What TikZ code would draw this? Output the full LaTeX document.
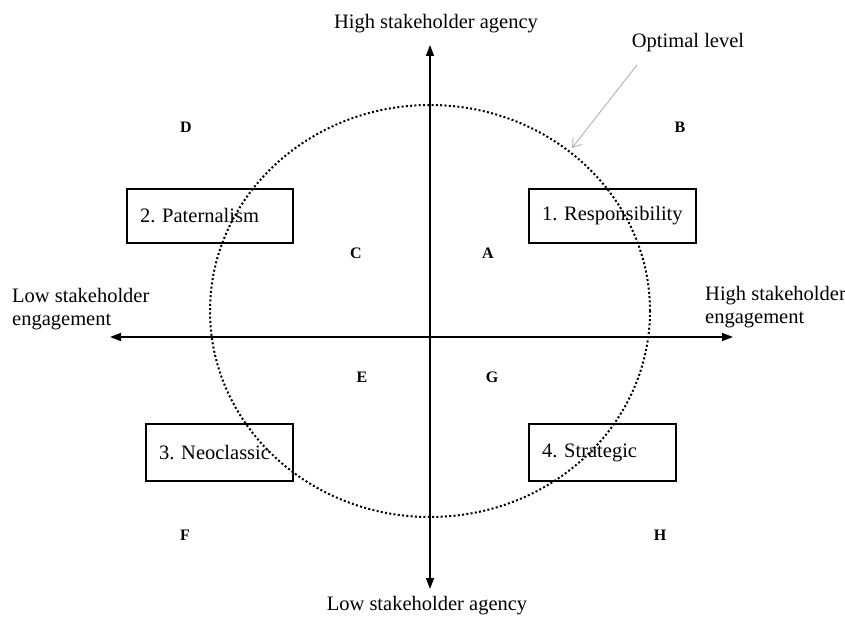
\documentclass[tikz,border=0pt]{standalone}
\usepackage{fontspec}
\setmainfont{Liberation Serif}
\usepackage{tikz}
\usetikzlibrary{arrows.meta,positioning}
\frenchspacing
\tikzset{
  sm/text/.style={font=\fontsize{20.5}{23}\selectfont, inner sep=0pt, align=left},
  sm/box/.style={draw, line width=1.4pt, text width=#1, inner xsep=13pt, inner ysep=0pt, minimum height=54pt, align=left, font=\fontsize{20.5}{23}\selectfont},
  sm/boxthick/.style={sm/box=#1, line width=2.7pt, minimum height=57pt},
  sm/letter/.style={font=\bfseries\fontsize{16}{18}\selectfont, inner sep=0pt},
  sm/axis/.style={line width=1.5pt, -{Triangle[length=11pt,width=8pt]}},
  sm/level/.style={line width=2pt, dash pattern=on 2pt off 2.3pt},
  sm/pointer/.style={gray!60, line width=0.9pt, -{Straight Barb[length=8pt,width=11pt]}}
}
\begin{document}
\begin{tikzpicture}[x=1pt, y=-1pt]
  \useasboundingbox (0,0) rectangle (845,617);
  % axes
  \coordinate (origin) at (430,337);
  \coordinate (up) at (430,45);
  \coordinate (down) at (430,589);
  \coordinate (left) at (110,337);
  \coordinate (right) at (733,337);
  \draw[sm/axis] (origin) -- (up);
  \draw[sm/axis] (origin) -- (down);
  \draw[sm/axis] (origin) -- (left);
  \draw[sm/axis] (origin) -- (right);
  \node[sm/text] (hiagency) at (436,24) {High stakeholder agency};
  \node[sm/text] (loagency) at (427,606) {Low stakeholder agency};
  \node[sm/text, anchor=west] (loeng) at (12,309) {Low stakeholder\\engagement};
  \node[sm/text, anchor=west] (hieng) at (705,307) {High stakeholder\\engagement};
  % optimal level
  \coordinate (centre) at (430,311);
  \draw[sm/level] (centre) ellipse [x radius=220pt, y radius=206pt];
  \node[sm/text] (optimal) at (688,43) {Optimal level};
  \coordinate (optstart) at (637,65);
  \coordinate (optend) at (572,148);
  \draw[sm/pointer] (optstart) -- (optend);
  % quadrants
  \node[sm/box=140pt] (pat) at (210,216) {2. Paternalism};
  \node[sm/box=141pt] (resp) at (612.5,216) {1. Responsibility};
  \node[sm/boxthick=121pt] (neo) at (219.5,452.5) {3. Neoclassic};
  \node[sm/boxthick=121pt] (strat) at (602.5,452.5) {4. Strategic};
  % letters
  \node[sm/letter] (D) at (186,127) {D};
  \node[sm/letter] (B) at (680,127) {B};
  \node[sm/letter] (C) at (356,253) {C};
  \node[sm/letter] (A) at (488,253) {A};
  \node[sm/letter] (E) at (362,377) {E};
  \node[sm/letter] (G) at (492,377) {G};
  \node[sm/letter] (F) at (185,535) {F};
  \node[sm/letter] (H) at (660,535) {H};
\end{tikzpicture}
\end{document}
